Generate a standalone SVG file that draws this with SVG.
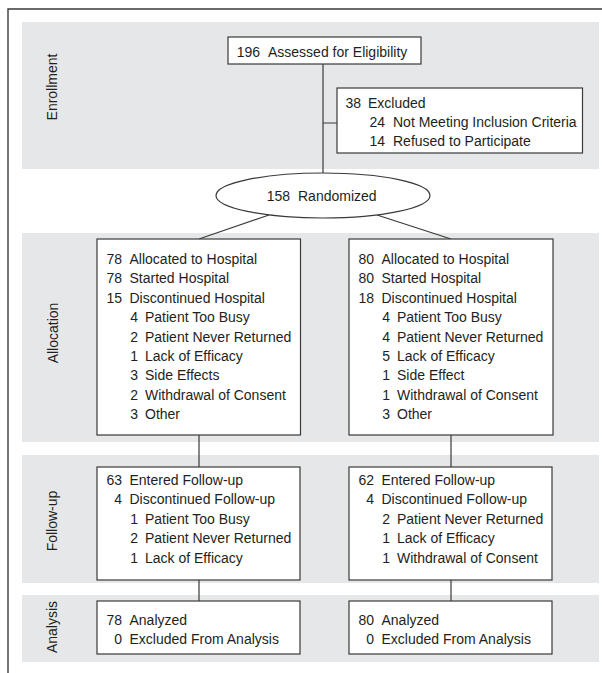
<svg xmlns="http://www.w3.org/2000/svg" width="602" height="673" viewBox="0 0 602 673">
<style>
text{font-family:"Liberation Sans",Arial,sans-serif;font-size:14px;fill:#231f20}
.n{text-anchor:end}
.lab{text-anchor:middle}
.band{fill:#e6e7e8}
.box{fill:#fff;stroke:#3a3a3a;stroke-width:1.2}
.ln{stroke:#3a3a3a;stroke-width:1.2;fill:none}
</style>
<rect width="602" height="673" fill="#fff"/>
<path d="M8,673 V9 H602" fill="none" stroke="#3a3a3a" stroke-width="1.4"/>
<g id="bands">
<rect class="band" x="22" y="22" width="577" height="147"/>
<rect class="band" x="22" y="233" width="577" height="209"/>
<rect class="band" x="22" y="455" width="577" height="128"/>
<rect class="band" x="22" y="595" width="577" height="67"/>
<text class="lab" transform="translate(57,87) rotate(-90)">Enrollment</text>
<text class="lab" transform="translate(58,333) rotate(-90)">Allocation</text>
<text class="lab" transform="translate(57,521) rotate(-90)">Follow-up</text>
<text class="lab" transform="translate(57,627) rotate(-90)">Analysis</text>
</g>
<g id="connectors">
<path class="ln" d="M323,64 V173 M323,123 H337"/>
<path class="ln" d="M269,215 L199,239 M377,215 L451,239"/>
<path class="ln" d="M199,435 V467 M199,580 V601 M451,435 V467 M451,580 V601"/>
</g>
<g id="assessed">
<rect class="box" x="228" y="37" width="193" height="27"/>
<text class="n" x="260" y="56.5">196</text><text x="268" y="56.5">Assessed for Eligibility</text>
</g>
<g id="excluded">
<rect class="box" x="337" y="88" width="245.5" height="65"/>
<text class="n" x="361" y="107.5">38</text><text x="368" y="107.5">Excluded</text>
<text class="n" x="385" y="126.5">24</text><text x="393" y="126.5">Not Meeting Inclusion Criteria</text>
<text class="n" x="385" y="145.5">14</text><text x="393" y="145.5">Refused to Participate</text>
</g>
<g id="randomized">
<ellipse class="box" cx="323" cy="195.5" rx="107" ry="22.5"/>
<text class="n" x="290" y="201">158</text><text x="298" y="201">Randomized</text>
</g>
<g id="alloc-left">
<rect class="box" x="97" y="239" width="203.5" height="196"/>
<text class="n" x="122" y="264">78</text><text x="129.5" y="264">Allocated to Hospital</text>
<text class="n" x="122" y="283.4">78</text><text x="129.5" y="283.4">Started Hospital</text>
<text class="n" x="122" y="302.8">15</text><text x="129.5" y="302.8">Discontinued Hospital</text>
<text class="n" x="138" y="322.2">4</text><text x="145" y="322.2">Patient Too Busy</text>
<text class="n" x="138" y="341.6">2</text><text x="145" y="341.6">Patient Never Returned</text>
<text class="n" x="138" y="361">1</text><text x="145" y="361">Lack of Efficacy</text>
<text class="n" x="138" y="380.4">3</text><text x="145" y="380.4">Side Effects</text>
<text class="n" x="138" y="399.8">2</text><text x="145" y="399.8">Withdrawal of Consent</text>
<text class="n" x="138" y="419.2">3</text><text x="145" y="419.2">Other</text>
</g>
<g id="alloc-right">
<rect class="box" x="349" y="239" width="204" height="196"/>
<text class="n" x="374" y="264">80</text><text x="381.5" y="264">Allocated to Hospital</text>
<text class="n" x="374" y="283.4">80</text><text x="381.5" y="283.4">Started Hospital</text>
<text class="n" x="374" y="302.8">18</text><text x="381.5" y="302.8">Discontinued Hospital</text>
<text class="n" x="390" y="322.2">4</text><text x="397" y="322.2">Patient Too Busy</text>
<text class="n" x="390" y="341.6">4</text><text x="397" y="341.6">Patient Never Returned</text>
<text class="n" x="390" y="361">5</text><text x="397" y="361">Lack of Efficacy</text>
<text class="n" x="390" y="380.4">1</text><text x="397" y="380.4">Side Effect</text>
<text class="n" x="390" y="399.8">1</text><text x="397" y="399.8">Withdrawal of Consent</text>
<text class="n" x="390" y="419.2">3</text><text x="397" y="419.2">Other</text>
</g>
<g id="follow-left">
<rect class="box" x="97" y="467" width="203" height="113"/>
<text class="n" x="122" y="484.5">63</text><text x="129.5" y="484.5">Entered Follow-up</text>
<text class="n" x="122" y="504">4</text><text x="129.5" y="504">Discontinued Follow-up</text>
<text class="n" x="138" y="523.5">1</text><text x="145" y="523.5">Patient Too Busy</text>
<text class="n" x="138" y="543">2</text><text x="145" y="543">Patient Never Returned</text>
<text class="n" x="138" y="562.5">1</text><text x="145" y="562.5">Lack of Efficacy</text>
</g>
<g id="follow-right">
<rect class="box" x="349" y="467" width="203" height="113"/>
<text class="n" x="374" y="484.5">62</text><text x="381.5" y="484.5">Entered Follow-up</text>
<text class="n" x="374" y="504">4</text><text x="381.5" y="504">Discontinued Follow-up</text>
<text class="n" x="390" y="523.5">2</text><text x="397" y="523.5">Patient Never Returned</text>
<text class="n" x="390" y="543">1</text><text x="397" y="543">Lack of Efficacy</text>
<text class="n" x="390" y="562.5">1</text><text x="397" y="562.5">Withdrawal of Consent</text>
</g>
<g id="analysis-left">
<rect class="box" x="97" y="601" width="203" height="53"/>
<text class="n" x="122" y="624.5">78</text><text x="129.5" y="624.5">Analyzed</text>
<text class="n" x="122" y="643.5">0</text><text x="129.5" y="643.5">Excluded From Analysis</text>
</g>
<g id="analysis-right">
<rect class="box" x="349" y="601" width="203" height="53"/>
<text class="n" x="374" y="624.5">80</text><text x="381.5" y="624.5">Analyzed</text>
<text class="n" x="374" y="643.5">0</text><text x="381.5" y="643.5">Excluded From Analysis</text>
</g>
</svg>
